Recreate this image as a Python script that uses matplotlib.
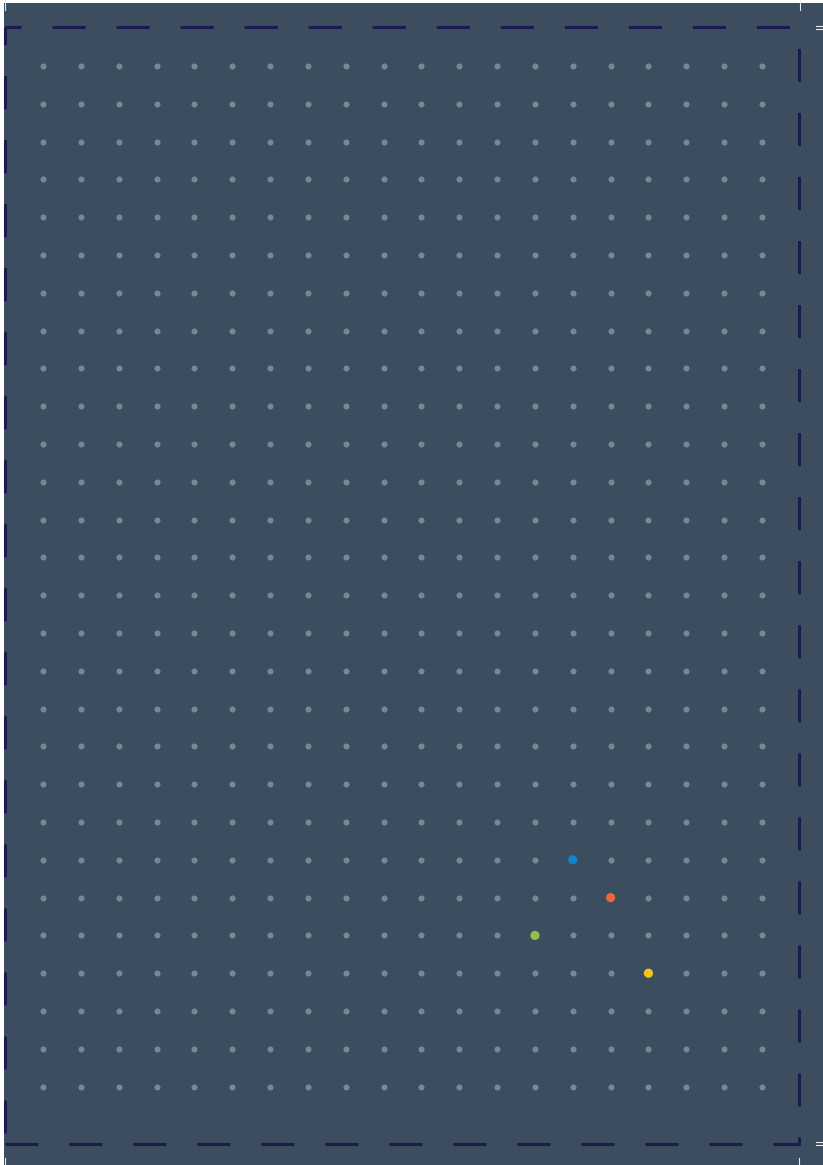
import matplotlib
matplotlib.use("Agg")
import matplotlib.pyplot as plt
from matplotlib.patches import Rectangle

# grid of dots (columns x rows) and the highlighted points (col, row)
n_cols = 20
n_rows = 28
highlight_cols = [14, 15, 13, 16]
highlight_rows = [21, 22, 23, 24]
highlight_colors = ['#0a86c9', '#f0643c', '#8dc04d', '#f6c419']

bg = '#3c4d5f'
dot_gray = '#7b8694'
dash_navy = '#1c1b4f'

W, H = 823, 1165
fig = plt.figure(figsize=(W / 100, H / 100), dpi=100, facecolor='white')

# pixel-space overlay for background, frame and crop marks
pax = fig.add_axes([0, 0, 1, 1])
pax.set_xlim(0, W)
pax.set_ylim(H, 0)
pax.axis('off')
pax.add_patch(Rectangle((4, 3), W - 4, H - 3, facecolor=bg, edgecolor='none', zorder=0))

# dot grid axes
ax = fig.add_axes([0, 0, 1, 1], facecolor='none')
x0, dx = 43, 37.84
y0, dy = 66, 37.8
ax.set_xlim(-x0 / dx, (W - x0) / dx)
ax.set_ylim((H - y0) / dy, -y0 / dy)
ax.axis('off')

gx = [c for r in range(n_rows) for c in range(n_cols)]
gy = [r for r in range(n_rows) for c in range(n_cols)]
ax.scatter(gx, gy, s=19, color=dot_gray, linewidths=0, zorder=2)
ax.scatter(highlight_cols, highlight_rows, s=44, c=highlight_colors, linewidths=0, zorder=3)

# dashed frame: top, right, bottom in one stroke, left side separately
plt.rcParams['lines.scale_dashes'] = False
pax.plot([5, 799, 799, 5], [27, 27, 1144, 1144], color=dash_navy, lw=2.2,
         linestyle=(12.2, (23.8, 22.3)), dash_capstyle='butt', zorder=4)
pax.plot([5, 5], [1144, 27], color=dash_navy, lw=2.2,
         linestyle=(38.2, (23.8, 22.3)), dash_capstyle='butt', zorder=4)

# small crop marks at the edges
mark = '#e8e8e8'
pax.plot([800, 800], [0, 10], color=mark, lw=0.8, zorder=5)
pax.plot([5, 5], [0, 10], color=mark, lw=0.8, zorder=5)
pax.plot([816, 823], [26, 26], color=mark, lw=0.8, zorder=5)
pax.plot([816, 823], [29, 29], color=mark, lw=0.8, zorder=5)
pax.plot([816, 823], [1142, 1142], color=mark, lw=0.8, zorder=5)
pax.plot([816, 823], [1145, 1145], color=mark, lw=0.8, zorder=5)
pax.plot([799, 799], [1158, 1165], color=mark, lw=0.8, zorder=5)
pax.plot([5, 5], [1158, 1165], color=mark, lw=0.8, zorder=5)

fig.savefig('out.png', dpi=100, facecolor='white')
